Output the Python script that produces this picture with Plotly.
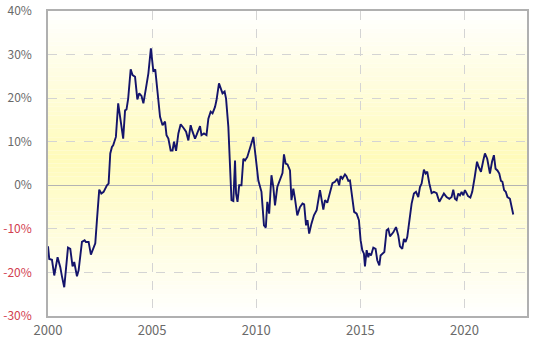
import plotly.graph_objects as go

# Decimal years and cumulative return (%)
years = [2000.00, 2000.06, 2000.19, 2000.30, 2000.46, 2000.59, 2000.67, 2000.78, 2000.96, 2001.07,
         2001.18, 2001.26, 2001.39, 2001.47, 2001.63, 2001.76, 2001.82, 2001.95, 2002.06, 2002.19,
         2002.27, 2002.35, 2002.46, 2002.56, 2002.67, 2002.83, 2002.91, 2002.99, 2003.07, 2003.13,
         2003.26, 2003.37, 2003.49, 2003.61, 2003.70, 2003.77, 2003.85, 2003.97, 2004.06, 2004.18,
         2004.29, 2004.38, 2004.49, 2004.58, 2004.70, 2004.82, 2004.94, 2005.06, 2005.15, 2005.26,
         2005.38, 2005.50, 2005.62, 2005.69, 2005.78, 2005.89, 2005.98, 2006.05, 2006.15, 2006.26,
         2006.37, 2006.50, 2006.63, 2006.74, 2006.85, 2006.94, 2007.06, 2007.13, 2007.30, 2007.37,
         2007.49, 2007.61, 2007.70, 2007.81, 2007.90, 2008.02, 2008.09, 2008.21, 2008.31, 2008.38,
         2008.48, 2008.55, 2008.66, 2008.74, 2008.81, 2008.90, 2008.98, 2009.03, 2009.10, 2009.18,
         2009.29, 2009.38, 2009.46, 2009.57, 2009.70, 2009.86, 2009.99, 2010.10, 2010.25, 2010.37,
         2010.46, 2010.53, 2010.62, 2010.73, 2010.82, 2010.90, 2011.01, 2011.14, 2011.26, 2011.33,
         2011.41, 2011.50, 2011.62, 2011.69, 2011.78, 2011.86, 2011.97, 2012.10, 2012.22, 2012.30,
         2012.39, 2012.46, 2012.54, 2012.65, 2012.77, 2012.90, 2013.06, 2013.22, 2013.30, 2013.41,
         2013.54, 2013.66, 2013.78, 2013.89, 2013.98, 2014.05, 2014.14, 2014.26, 2014.33, 2014.42,
         2014.50, 2014.61, 2014.70, 2014.82, 2014.93, 2015.01, 2015.09, 2015.17, 2015.22, 2015.30,
         2015.38, 2015.42, 2015.51, 2015.62, 2015.73, 2015.81, 2015.91, 2015.97, 2016.06, 2016.15,
         2016.26, 2016.34, 2016.42, 2016.58, 2016.71, 2016.82, 2016.90, 2017.01, 2017.09, 2017.17,
         2017.25, 2017.35, 2017.46, 2017.57, 2017.67, 2017.78, 2017.86, 2017.94, 2018.05, 2018.13,
         2018.21, 2018.31, 2018.42, 2018.53, 2018.66, 2018.79, 2018.90, 2019.01, 2019.14, 2019.27,
         2019.38, 2019.46, 2019.54, 2019.62, 2019.70, 2019.78, 2019.86, 2019.94, 2020.02, 2020.10,
         2020.17, 2020.28, 2020.37, 2020.49, 2020.60, 2020.68, 2020.79, 2020.90, 2020.98, 2021.09,
         2021.22, 2021.32, 2021.41, 2021.49, 2021.58, 2021.67, 2021.75, 2021.82, 2021.90, 2021.98,
         2022.06, 2022.18, 2022.26, 2022.34]
returns = [-14.0, -16.9, -17.1, -20.7, -16.5, -18.8, -20.9, -23.4, -14.3, -14.6,
           -18.6, -17.6, -20.9, -19.5, -13.0, -12.6, -13.0, -13.0, -15.9, -14.2,
           -13.3, -8.0, -1.0, -1.9, -1.5, 0.0, 0.4, 7.3, 8.8, 9.2,
           11.1, 18.8, 14.9, 10.7, 17.2, 17.4, 19.9, 26.6, 25.3, 24.9,
           19.7, 21.1, 20.5, 18.8, 22.2, 25.7, 31.4, 26.1, 26.6, 21.8,
           15.7, 13.8, 14.6, 11.5, 10.7, 8.0, 8.0, 10.0, 7.9, 11.9,
           14.0, 13.2, 12.3, 10.3, 13.8, 12.3, 10.7, 11.5, 13.6, 11.5,
           11.9, 11.5, 15.3, 16.9, 16.5, 18.0, 19.5, 23.4, 21.7, 21.1,
           21.5, 19.9, 13.4, 5.7, -3.4, -3.6, 5.7, -1.9, -3.8, 0.0,
           0.0, 6.1, 5.7, 6.5, 8.7, 11.1, 5.7, 1.1, -1.5, -9.2,
           -9.7, -3.8, -6.5, 2.3, -0.4, -4.6, -0.4, 1.1, 2.8, 7.1,
           5.0, 4.8, 3.4, -3.4, -0.8, -3.1, -6.9, -5.0, -4.2, -4.4,
           -9.2, -8.0, -11.1, -8.8, -6.9, -5.7, -1.1, -5.6, -3.4, -4.0,
           -1.5, 0.5, 0.8, 1.5, 0.0, 2.1, 1.5, 2.5, 2.1, 1.0,
           1.1, -2.3, -6.1, -6.5, -8.0, -12.6, -14.9, -15.7, -18.6, -14.9,
           -16.5, -15.6, -16.1, -14.3, -14.6, -17.2, -18.4, -16.1, -15.7, -15.3,
           -10.3, -10.0, -11.7, -10.8, -9.6, -11.5, -14.0, -14.6, -12.3, -13.0,
           -11.9, -8.0, -4.2, -1.9, -1.5, -2.7, -0.4, 0.4, 3.6, 2.7,
           3.1, 0.4, -1.8, -1.5, -1.8, -3.8, -2.7, -1.9, -2.7, -3.1,
           -2.7, -1.0, -3.1, -3.4, -1.9, -2.3, -1.5, -2.3, -1.1, -1.9,
           -2.5, -2.8, -1.5, 1.9, 5.4, 4.2, 3.1, 5.7, 7.3, 6.1,
           2.7, 5.4, 6.9, 3.8, 3.4, 2.7, 1.0, 0.8, -1.1, -1.5,
           -2.7, -3.1, -4.6, -6.7]

y_ticks = [-30, -20, -10, 0, 10, 20, 30, 40]
x_ticks = [2000, 2005, 2010, 2015, 2020]

def ylabel(v):
    if v < 0:
        return '<span style="color:#d2404f">%d%%</span>' % v
    return '%d%%' % v

fig = go.Figure()
fig.add_trace(go.Scatter(x=years, y=returns, mode='lines',
                         line=dict(color='#14146b', width=1.9), hoverinfo='skip'))

# vertical gradient background (white -> pale yellow -> white)
n = 70
shapes = []
for i in range(n):
    p0 = i / n
    p1 = (i + 1) / n
    pc = (p0 + p1) / 2
    peak = 0.52
    if pc <= peak:
        f = pc / peak
    else:
        f = (1 - pc) / (1 - peak)
    f = max(0.0, min(1.0, f))
    r = 255
    g = round(255 - 4 * f)
    b = round(255 - 68 * f)
    shapes.append(dict(type='rect', xref='paper', yref='paper', x0=0, x1=1, y0=p0, y1=p1,
                       fillcolor='rgb(%d,%d,%d)' % (r, g, b), line=dict(width=0), layer='below'))

fig.update_layout(
    width=540, height=345,
    margin=dict(l=48, r=13, t=11, b=29),
    paper_bgcolor='white', plot_bgcolor='white',
    showlegend=False,
    shapes=shapes,
    font=dict(family='Noto Sans CJK JP, DejaVu Sans, sans-serif', size=12, color='#6a6a6a'),
)
fig.update_xaxes(range=[2000, 2023], tickvals=x_ticks, ticktext=[str(t) for t in x_ticks],
                 tickfont=dict(size=13),
                 showgrid=True, gridcolor='#d4d4d4', griddash='dash', gridwidth=1,
                 showline=True, linecolor='#b0b0b0', linewidth=1.5, mirror=True,
                 ticks='', zeroline=False, ticklabelstandoff=2, automargin=False)
fig.update_yaxes(range=[-30, 40], tickvals=y_ticks, ticktext=[ylabel(v) for v in y_ticks],
                 showgrid=True, gridcolor='#d4d4d4', griddash='dash', gridwidth=1,
                 showline=True, linecolor='#b0b0b0', linewidth=1.5, mirror=True,
                 zeroline=True, zerolinecolor='#b4b4b4', zerolinewidth=1,
                 ticks='', ticklabelstandoff=12, automargin=False)

fig.write_html("out.html")
